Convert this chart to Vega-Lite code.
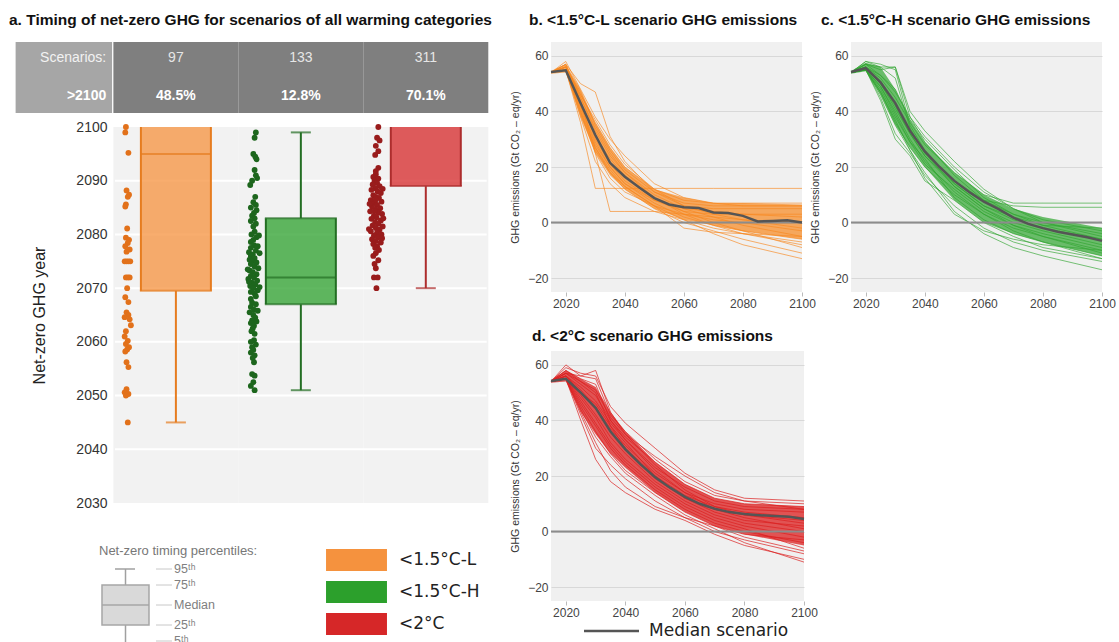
{
"$schema": "https://vega.github.io/schema/vega-lite/v6.json",
"background": "white",
"padding": {"left": 9, "top": 12, "right": 0, "bottom": 0},
"config": {"font": "Liberation Sans", "view": {"stroke": null}, "title": {"font": "Liberation Sans", "fontWeight": "bold", "fontSize": 15.5, "color": "#111111", "anchor": "start", "offset": 14, "frame": "group"}},
"datasets": {
"box": [
{"g":"<1.5°C-L","c":1,"n":"97","pct":"48.5%","lo":2045,"q1":2069.5,"med":2095,"q3":2100,"hi":null},
{"g":"<1.5°C-H","c":2,"n":"133","pct":"12.8%","lo":2051,"q1":2067,"med":2072,"q3":2083,"hi":2099},
{"g":"<2°C","c":3,"n":"311","pct":"70.1%","lo":2070,"q1":2089,"med":null,"q3":2100,"hi":null}],
"grid": [{"y":2040},{"y":2050},{"y":2060},{"y":2070},{"y":2080},{"y":2090}],
"dL": [{"x":0.60,"y":2100},{"x":0.595,"y":2099},{"x":0.62,"y":2095.2},{"x":0.605,"y":2088.2},{"x":0.625,"y":2087.4},{"x":0.615,"y":2087},{"x":0.6,"y":2085.6},{"x":0.595,"y":2085.2},{"x":0.61,"y":2081.1},{"x":0.6,"y":2079.4},{"x":0.625,"y":2079},{"x":0.615,"y":2078.4},{"x":0.595,"y":2077.8},{"x":0.63,"y":2077.2},{"x":0.605,"y":2076.8},{"x":0.59,"y":2075},{"x":0.605,"y":2075},{"x":0.62,"y":2075},{"x":0.635,"y":2075},{"x":0.6,"y":2072},{"x":0.615,"y":2072},{"x":0.63,"y":2072},{"x":0.61,"y":2070},{"x":0.595,"y":2068.3},{"x":0.62,"y":2067.4},{"x":0.605,"y":2065.5},{"x":0.62,"y":2065},{"x":0.59,"y":2064.6},{"x":0.63,"y":2064.2},{"x":0.64,"y":2063.1},{"x":0.6,"y":2062},{"x":0.59,"y":2061},{"x":0.615,"y":2060.2},{"x":0.6,"y":2059.6},{"x":0.625,"y":2059},{"x":0.61,"y":2058.6},{"x":0.595,"y":2058.2},{"x":0.605,"y":2056.2},{"x":0.62,"y":2055.3},{"x":0.605,"y":2051.2},{"x":0.59,"y":2050.6},{"x":0.62,"y":2050.3},{"x":0.6,"y":2050},{"x":0.615,"y":2045}],
"dH": [{"x":1.64,"y":2099},{"x":1.63,"y":2098},{"x":1.62,"y":2095},{"x":1.635,"y":2094.5},{"x":1.645,"y":2094},{"x":1.63,"y":2092},{"x":1.64,"y":2091},{"x":1.65,"y":2090.5},{"x":1.61,"y":2090},{"x":1.595,"y":2089.2},{"x":1.635,"y":2087},{"x":1.62,"y":2086},{"x":1.64,"y":2085.5},{"x":1.6,"y":2085},{"x":1.645,"y":2084.5},{"x":1.625,"y":2084},{"x":1.61,"y":2083.5},{"x":1.63,"y":2083},{"x":1.6,"y":2082.5},{"x":1.64,"y":2082},{"x":1.62,"y":2081.5},{"x":1.63,"y":2080.5},{"x":1.605,"y":2080},{"x":1.645,"y":2079.5},{"x":1.62,"y":2079},{"x":1.6,"y":2078.6},{"x":1.625,"y":2078},{"x":1.6,"y":2077.5},{"x":1.64,"y":2077},{"x":1.585,"y":2076.7},{"x":1.615,"y":2076.3},{"x":1.6,"y":2076},{"x":1.63,"y":2075.6},{"x":1.59,"y":2075.3},{"x":1.61,"y":2075},{"x":1.6,"y":2074.5},{"x":1.63,"y":2074},{"x":1.66,"y":2073.7},{"x":1.59,"y":2073.3},{"x":1.615,"y":2073},{"x":1.645,"y":2072.6},{"x":1.6,"y":2072.3},{"x":1.625,"y":2072},{"x":1.58,"y":2071.7},{"x":1.65,"y":2071.4},{"x":1.61,"y":2071},{"x":1.635,"y":2070.7},{"x":1.595,"y":2070.4},{"x":1.62,"y":2070},{"x":1.655,"y":2069.6},{"x":1.6,"y":2069.3},{"x":1.63,"y":2069},{"x":1.61,"y":2067.3},{"x":1.64,"y":2067},{"x":1.6,"y":2066.5},{"x":1.625,"y":2066},{"x":1.59,"y":2065.5},{"x":1.62,"y":2065},{"x":1.635,"y":2064.5},{"x":1.61,"y":2064},{"x":1.6,"y":2063.5},{"x":1.625,"y":2063},{"x":1.615,"y":2062.5},{"x":1.605,"y":2062},{"x":1.625,"y":2060.3},{"x":1.6,"y":2060},{"x":1.64,"y":2059.5},{"x":1.61,"y":2059},{"x":1.62,"y":2058.5},{"x":1.6,"y":2058},{"x":1.63,"y":2057.5},{"x":1.615,"y":2057},{"x":1.625,"y":2056.2},{"x":1.61,"y":2054},{"x":1.63,"y":2053.7},{"x":1.62,"y":2052.5},{"x":1.6,"y":2051.8},{"x":1.63,"y":2051},{"x":1.665,"y":2079.8},{"x":1.655,"y":2077.8},{"x":1.67,"y":2076.5},{"x":1.645,"y":2074.8},{"x":1.575,"y":2073.5},{"x":1.585,"y":2071.2},{"x":1.67,"y":2070.2},{"x":1.64,"y":2068.5},{"x":1.6,"y":2068},{"x":1.655,"y":2065.8},{"x":1.645,"y":2063.8},{"x":1.63,"y":2061.5}],
"dC": [{"x":2.62,"y":2100},{"x":2.61,"y":2098},{"x":2.63,"y":2097.5},{"x":2.6,"y":2096.5},{"x":2.62,"y":2095.5},{"x":2.595,"y":2094.8},{"x":2.62,"y":2092.4},{"x":2.6,"y":2091.8},{"x":2.6,"y":2091.2},{"x":2.58,"y":2090.7},{"x":2.62,"y":2090.4},{"x":2.59,"y":2090},{"x":2.61,"y":2089.6},{"x":2.575,"y":2089.3},{"x":2.63,"y":2089},{"x":2.595,"y":2088.6},{"x":2.565,"y":2088.3},{"x":2.615,"y":2088},{"x":2.64,"y":2087.7},{"x":2.58,"y":2087.3},{"x":2.6,"y":2087},{"x":2.625,"y":2086.8},{"x":2.56,"y":2086.4},{"x":2.645,"y":2086.1},{"x":2.59,"y":2085.9},{"x":2.61,"y":2085.5},{"x":2.57,"y":2085.2},{"x":2.635,"y":2084.9},{"x":2.6,"y":2084.6},{"x":2.555,"y":2084.3},{"x":2.62,"y":2084.1},{"x":2.65,"y":2083.8},{"x":2.585,"y":2083.5},{"x":2.605,"y":2083.2},{"x":2.565,"y":2082.9},{"x":2.64,"y":2082.6},{"x":2.595,"y":2082.3},{"x":2.62,"y":2082},{"x":2.575,"y":2081.7},{"x":2.655,"y":2081.5},{"x":2.6,"y":2081.2},{"x":2.63,"y":2080.9},{"x":2.56,"y":2080.6},{"x":2.61,"y":2080.3},{"x":2.645,"y":2080},{"x":2.585,"y":2079.8},{"x":2.62,"y":2079.5},{"x":2.57,"y":2079.1},{"x":2.6,"y":2078.8},{"x":2.64,"y":2078.5},{"x":2.58,"y":2078.2},{"x":2.61,"y":2077.8},{"x":2.595,"y":2077.5},{"x":2.625,"y":2077.1},{"x":2.655,"y":2088.5},{"x":2.55,"y":2085.7},{"x":2.66,"y":2083},{"x":2.545,"y":2081},{"x":2.65,"y":2079.3},{"x":2.6,"y":2086.5},{"x":2.59,"y":2084.4},{"x":2.6,"y":2076.5},{"x":2.58,"y":2076},{"x":2.62,"y":2075.2},{"x":2.59,"y":2074.5},{"x":2.6,"y":2073.7},{"x":2.585,"y":2072},{"x":2.615,"y":2072},{"x":2.605,"y":2070}],
"pctl": [{"p":95,"t":"95ᵗʰ"},{"p":75,"t":"75ᵗʰ"},{"p":50,"t":"Median"},{"p":25,"t":"25ᵗʰ"},{"p":5,"t":"5ᵗʰ"}],
"band": [
{"p":"b","x":2015,"lo":53.6,"hi":54.6},{"p":"b","x":2020,"lo":54,"hi":57},{"p":"b","x":2025,"lo":38,"hi":48},{"p":"b","x":2030,"lo":25,"hi":36},{"p":"b","x":2035,"lo":17,"hi":27},{"p":"b","x":2040,"lo":12,"hi":20},{"p":"b","x":2050,"lo":5,"hi":12},{"p":"b","x":2060,"lo":1,"hi":9},{"p":"b","x":2070,"lo":-1,"hi":7},{"p":"b","x":2080,"lo":-3,"hi":7},{"p":"b","x":2100,"lo":-6,"hi":6.5},
{"p":"c","x":2015,"lo":53.6,"hi":54.6},{"p":"c","x":2020,"lo":54.5,"hi":57.5},{"p":"c","x":2025,"lo":46,"hi":56},{"p":"c","x":2030,"lo":35,"hi":48},{"p":"c","x":2035,"lo":27,"hi":37},{"p":"c","x":2040,"lo":20,"hi":29},{"p":"c","x":2050,"lo":8,"hi":18},{"p":"c","x":2060,"lo":0,"hi":10},{"p":"c","x":2070,"lo":-4,"hi":5},{"p":"c","x":2080,"lo":-7,"hi":2},{"p":"c","x":2100,"lo":-12,"hi":-2},
{"p":"d","x":2015,"lo":53.6,"hi":54.6},{"p":"d","x":2020,"lo":54,"hi":58},{"p":"d","x":2025,"lo":43,"hi":55},{"p":"d","x":2030,"lo":35,"hi":52},{"p":"d","x":2035,"lo":28,"hi":43},{"p":"d","x":2040,"lo":23,"hi":36},{"p":"d","x":2050,"lo":14,"hi":25},{"p":"d","x":2060,"lo":7,"hi":17},{"p":"d","x":2070,"lo":2,"hi":12},{"p":"d","x":2080,"lo":-1,"hi":10},{"p":"d","x":2100,"lo":-5,"hi":9}],
"med": [
{"p":"b","x":2015,"y":54.2},{"p":"b","x":2020,"y":54.8},{"p":"b","x":2025,"y":43},{"p":"b","x":2030,"y":31.5},{"p":"b","x":2035,"y":21.5},{"p":"b","x":2040,"y":16.5},{"p":"b","x":2045,"y":12.5},{"p":"b","x":2050,"y":8.8},{"p":"b","x":2055,"y":6.5},{"p":"b","x":2060,"y":5.5},{"p":"b","x":2065,"y":5.2},{"p":"b","x":2070,"y":3.6},{"p":"b","x":2075,"y":3.4},{"p":"b","x":2080,"y":2.4},{"p":"b","x":2085,"y":0.4},{"p":"b","x":2090,"y":0.6},{"p":"b","x":2095,"y":0.8},{"p":"b","x":2100,"y":0},
{"p":"c","x":2015,"y":54.2},{"p":"c","x":2020,"y":55.6},{"p":"c","x":2025,"y":50.5},{"p":"c","x":2030,"y":43},{"p":"c","x":2035,"y":33},{"p":"c","x":2040,"y":25.6},{"p":"c","x":2045,"y":20},{"p":"c","x":2050,"y":15},{"p":"c","x":2055,"y":11},{"p":"c","x":2060,"y":7.5},{"p":"c","x":2065,"y":4.8},{"p":"c","x":2070,"y":1.8},{"p":"c","x":2075,"y":-0.5},{"p":"c","x":2080,"y":-2},{"p":"c","x":2085,"y":-3.3},{"p":"c","x":2090,"y":-4.3},{"p":"c","x":2095,"y":-5.3},{"p":"c","x":2100,"y":-6.6},
{"p":"d","x":2015,"y":54.2},{"p":"d","x":2020,"y":55},{"p":"d","x":2025,"y":50},{"p":"d","x":2030,"y":44.5},{"p":"d","x":2035,"y":36},{"p":"d","x":2040,"y":29.6},{"p":"d","x":2045,"y":24.3},{"p":"d","x":2050,"y":19.5},{"p":"d","x":2055,"y":15.8},{"p":"d","x":2060,"y":12.5},{"p":"d","x":2065,"y":10},{"p":"d","x":2070,"y":8.2},{"p":"d","x":2075,"y":7},{"p":"d","x":2080,"y":6.3},{"p":"d","x":2085,"y":5.9},{"p":"d","x":2090,"y":5.6},{"p":"d","x":2095,"y":5.3},{"p":"d","x":2100,"y":4.5}],
"lb": [
{"s":1,"x":2015,"y":54},{"s":1,"x":2020,"y":56},{"s":1,"x":2025,"y":46},{"s":1,"x":2030,"y":36},{"s":1,"x":2035,"y":27},{"s":1,"x":2040,"y":20},{"s":1,"x":2050,"y":12},{"s":1,"x":2060,"y":8},{"s":1,"x":2070,"y":7},{"s":1,"x":2080,"y":7},{"s":1,"x":2100,"y":7},
{"s":2,"x":2015,"y":54},{"s":2,"x":2020,"y":57},{"s":2,"x":2025,"y":44},{"s":2,"x":2030,"y":30},{"s":2,"x":2035,"y":21},{"s":2,"x":2040,"y":15},{"s":2,"x":2050,"y":8},{"s":2,"x":2060,"y":5},{"s":2,"x":2070,"y":4},{"s":2,"x":2080,"y":3},{"s":2,"x":2100,"y":2},
{"s":3,"x":2015,"y":54},{"s":3,"x":2020,"y":55},{"s":3,"x":2025,"y":40},{"s":3,"x":2030,"y":25},{"s":3,"x":2035,"y":16},{"s":3,"x":2040,"y":11},{"s":3,"x":2050,"y":6},{"s":3,"x":2060,"y":3},{"s":3,"x":2070,"y":1},{"s":3,"x":2080,"y":0},{"s":3,"x":2100,"y":-3},
{"s":4,"x":2015,"y":54},{"s":4,"x":2020,"y":58},{"s":4,"x":2025,"y":48},{"s":4,"x":2030,"y":38},{"s":4,"x":2035,"y":30},{"s":4,"x":2040,"y":24},{"s":4,"x":2050,"y":14},{"s":4,"x":2060,"y":9},{"s":4,"x":2070,"y":7},{"s":4,"x":2080,"y":6},{"s":4,"x":2100,"y":6},
{"s":5,"x":2015,"y":54},{"s":5,"x":2020,"y":55},{"s":5,"x":2025,"y":42},{"s":5,"x":2030,"y":28},{"s":5,"x":2035,"y":20},{"s":5,"x":2040,"y":14},{"s":5,"x":2050,"y":7},{"s":5,"x":2060,"y":2},{"s":5,"x":2070,"y":-1},{"s":5,"x":2080,"y":-3},{"s":5,"x":2100,"y":-6},
{"s":6,"x":2015,"y":54},{"s":6,"x":2020,"y":56},{"s":6,"x":2025,"y":45},{"s":6,"x":2030,"y":33},{"s":6,"x":2035,"y":24},{"s":6,"x":2040,"y":18},{"s":6,"x":2050,"y":10},{"s":6,"x":2060,"y":5},{"s":6,"x":2070,"y":2},{"s":6,"x":2080,"y":-1},{"s":6,"x":2100,"y":-5},
{"s":7,"x":2015,"y":54},{"s":7,"x":2020,"y":55},{"s":7,"x":2025,"y":38},{"s":7,"x":2030,"y":22},{"s":7,"x":2035,"y":14},{"s":7,"x":2040,"y":9},{"s":7,"x":2050,"y":4},{"s":7,"x":2060,"y":1},{"s":7,"x":2070,"y":-2},{"s":7,"x":2080,"y":-4},{"s":7,"x":2100,"y":-8},
{"s":8,"x":2015,"y":54},{"s":8,"x":2020,"y":57},{"s":8,"x":2025,"y":50},{"s":8,"x":2030,"y":47},{"s":8,"x":2035,"y":31},{"s":8,"x":2040,"y":22},{"s":8,"x":2050,"y":11},{"s":8,"x":2060,"y":6},{"s":8,"x":2070,"y":5},{"s":8,"x":2080,"y":5},{"s":8,"x":2100,"y":5},
{"s":9,"x":2015,"y":54},{"s":9,"x":2020,"y":55},{"s":9,"x":2025,"y":41},{"s":9,"x":2030,"y":27},{"s":9,"x":2035,"y":18},{"s":9,"x":2040,"y":12},{"s":9,"x":2050,"y":5},{"s":9,"x":2060,"y":0},{"s":9,"x":2070,"y":-3},{"s":9,"x":2080,"y":-6},{"s":9,"x":2100,"y":-11},
{"s":10,"x":2015,"y":54},{"s":10,"x":2020,"y":56},{"s":10,"x":2025,"y":43},{"s":10,"x":2030,"y":31},{"s":10,"x":2035,"y":23},{"s":10,"x":2040,"y":17},{"s":10,"x":2050,"y":9},{"s":10,"x":2060,"y":4},{"s":10,"x":2070,"y":0},{"s":10,"x":2080,"y":-3},{"s":10,"x":2100,"y":-9},
{"s":11,"x":2015,"y":54},{"s":11,"x":2020,"y":55},{"s":11,"x":2025,"y":36},{"s":11,"x":2030,"y":12.3},{"s":11,"x":2035,"y":12.3},{"s":11,"x":2040,"y":12.3},{"s":11,"x":2050,"y":12.3},{"s":11,"x":2060,"y":12.3},{"s":11,"x":2070,"y":12.3},{"s":11,"x":2080,"y":12.3},{"s":11,"x":2100,"y":12.3},
{"s":12,"x":2015,"y":54},{"s":12,"x":2020,"y":56},{"s":12,"x":2025,"y":44},{"s":12,"x":2030,"y":25},{"s":12,"x":2035,"y":4},{"s":12,"x":2040,"y":4},{"s":12,"x":2050,"y":4},{"s":12,"x":2060,"y":3},{"s":12,"x":2070,"y":2},{"s":12,"x":2080,"y":1},{"s":12,"x":2100,"y":0},
{"s":13,"x":2015,"y":54},{"s":13,"x":2020,"y":55},{"s":13,"x":2025,"y":39},{"s":13,"x":2030,"y":26},{"s":13,"x":2035,"y":18},{"s":13,"x":2040,"y":13},{"s":13,"x":2050,"y":6},{"s":13,"x":2060,"y":1},{"s":13,"x":2070,"y":-4},{"s":13,"x":2080,"y":-8},{"s":13,"x":2100,"y":-13},
{"s":14,"x":2015,"y":54},{"s":14,"x":2020,"y":56},{"s":14,"x":2025,"y":47},{"s":14,"x":2030,"y":35},{"s":14,"x":2035,"y":26},{"s":14,"x":2040,"y":19},{"s":14,"x":2050,"y":11},{"s":14,"x":2060,"y":7},{"s":14,"x":2070,"y":6},{"s":14,"x":2080,"y":6},{"s":14,"x":2100,"y":6},
{"s":15,"x":2015,"y":54},{"s":15,"x":2020,"y":55},{"s":15,"x":2025,"y":42},{"s":15,"x":2030,"y":29},{"s":15,"x":2035,"y":20},{"s":15,"x":2040,"y":14},{"s":15,"x":2050,"y":8},{"s":15,"x":2060,"y":4},{"s":15,"x":2070,"y":3},{"s":15,"x":2080,"y":3},{"s":15,"x":2100,"y":3},
{"s":16,"x":2015,"y":54},{"s":16,"x":2020,"y":57},{"s":16,"x":2025,"y":45},{"s":16,"x":2030,"y":34},{"s":16,"x":2035,"y":25},{"s":16,"x":2040,"y":18},{"s":16,"x":2050,"y":9},{"s":16,"x":2060,"y":3},{"s":16,"x":2070,"y":-1},{"s":16,"x":2080,"y":-4},{"s":16,"x":2100,"y":-7},
{"s":17,"x":2015,"y":54},{"s":17,"x":2020,"y":55},{"s":17,"x":2025,"y":40},{"s":17,"x":2030,"y":27},{"s":17,"x":2035,"y":19},{"s":17,"x":2040,"y":13},{"s":17,"x":2050,"y":6},{"s":17,"x":2060,"y":-2},{"s":17,"x":2070,"y":-3.5},{"s":17,"x":2080,"y":-4},{"s":17,"x":2100,"y":-5},
{"s":18,"x":2015,"y":54},{"s":18,"x":2020,"y":56},{"s":18,"x":2025,"y":46},{"s":18,"x":2030,"y":37},{"s":18,"x":2035,"y":28},{"s":18,"x":2040,"y":21},{"s":18,"x":2050,"y":12},{"s":18,"x":2060,"y":6},{"s":18,"x":2070,"y":3},{"s":18,"x":2080,"y":1},{"s":18,"x":2100,"y":-2}],
"lc": [
{"s":1,"x":2015,"y":54},{"s":1,"x":2020,"y":57},{"s":1,"x":2025,"y":56},{"s":1,"x":2030,"y":56},{"s":1,"x":2035,"y":38},{"s":1,"x":2040,"y":29},{"s":1,"x":2050,"y":17},{"s":1,"x":2060,"y":8},{"s":1,"x":2070,"y":3},{"s":1,"x":2080,"y":0},{"s":1,"x":2100,"y":-4},
{"s":2,"x":2015,"y":54},{"s":2,"x":2020,"y":56},{"s":2,"x":2025,"y":50},{"s":2,"x":2030,"y":42},{"s":2,"x":2035,"y":32},{"s":2,"x":2040,"y":24},{"s":2,"x":2050,"y":13},{"s":2,"x":2060,"y":5},{"s":2,"x":2070,"y":0},{"s":2,"x":2080,"y":-3},{"s":2,"x":2100,"y":-8},
{"s":3,"x":2015,"y":54},{"s":3,"x":2020,"y":55},{"s":3,"x":2025,"y":47},{"s":3,"x":2030,"y":36},{"s":3,"x":2035,"y":27},{"s":3,"x":2040,"y":20},{"s":3,"x":2050,"y":10},{"s":3,"x":2060,"y":3},{"s":3,"x":2070,"y":-2},{"s":3,"x":2080,"y":-5},{"s":3,"x":2100,"y":-10},
{"s":4,"x":2015,"y":54},{"s":4,"x":2020,"y":58},{"s":4,"x":2025,"y":57},{"s":4,"x":2030,"y":55},{"s":4,"x":2035,"y":35},{"s":4,"x":2040,"y":26},{"s":4,"x":2050,"y":14},{"s":4,"x":2060,"y":6},{"s":4,"x":2070,"y":1},{"s":4,"x":2080,"y":-2},{"s":4,"x":2100,"y":-6},
{"s":5,"x":2015,"y":54},{"s":5,"x":2020,"y":55},{"s":5,"x":2025,"y":45},{"s":5,"x":2030,"y":32},{"s":5,"x":2035,"y":25},{"s":5,"x":2040,"y":17},{"s":5,"x":2050,"y":6},{"s":5,"x":2060,"y":-2},{"s":5,"x":2070,"y":-7},{"s":5,"x":2080,"y":-10},{"s":5,"x":2100,"y":-14},
{"s":6,"x":2015,"y":54},{"s":6,"x":2020,"y":56},{"s":6,"x":2025,"y":52},{"s":6,"x":2030,"y":45},{"s":6,"x":2035,"y":36},{"s":6,"x":2040,"y":28},{"s":6,"x":2050,"y":18},{"s":6,"x":2060,"y":10},{"s":6,"x":2070,"y":7},{"s":6,"x":2080,"y":7},{"s":6,"x":2100,"y":7},
{"s":7,"x":2015,"y":54},{"s":7,"x":2020,"y":55},{"s":7,"x":2025,"y":49},{"s":7,"x":2030,"y":40},{"s":7,"x":2035,"y":30},{"s":7,"x":2040,"y":22},{"s":7,"x":2050,"y":11},{"s":7,"x":2060,"y":3},{"s":7,"x":2070,"y":-3},{"s":7,"x":2080,"y":-7},{"s":7,"x":2100,"y":-12},
{"s":8,"x":2015,"y":54},{"s":8,"x":2020,"y":57},{"s":8,"x":2025,"y":53},{"s":8,"x":2030,"y":47},{"s":8,"x":2035,"y":38},{"s":8,"x":2040,"y":31},{"s":8,"x":2050,"y":20},{"s":8,"x":2060,"y":11},{"s":8,"x":2070,"y":5},{"s":8,"x":2080,"y":1},{"s":8,"x":2100,"y":-3},
{"s":9,"x":2015,"y":54},{"s":9,"x":2020,"y":55},{"s":9,"x":2025,"y":46},{"s":9,"x":2030,"y":35},{"s":9,"x":2035,"y":26},{"s":9,"x":2040,"y":18},{"s":9,"x":2050,"y":4},{"s":9,"x":2060,"y":-4},{"s":9,"x":2070,"y":-9},{"s":9,"x":2080,"y":-12},{"s":9,"x":2100,"y":-17},
{"s":10,"x":2015,"y":54},{"s":10,"x":2020,"y":56},{"s":10,"x":2025,"y":51},{"s":10,"x":2030,"y":43},{"s":10,"x":2035,"y":33},{"s":10,"x":2040,"y":25},{"s":10,"x":2050,"y":15},{"s":10,"x":2060,"y":8},{"s":10,"x":2070,"y":6},{"s":10,"x":2080,"y":5.5},{"s":10,"x":2100,"y":5.5},
{"s":11,"x":2015,"y":54},{"s":11,"x":2020,"y":55},{"s":11,"x":2025,"y":48},{"s":11,"x":2030,"y":38},{"s":11,"x":2035,"y":29},{"s":11,"x":2040,"y":21},{"s":11,"x":2050,"y":12},{"s":11,"x":2060,"y":4},{"s":11,"x":2070,"y":-1},{"s":11,"x":2080,"y":-4},{"s":11,"x":2100,"y":-9},
{"s":12,"x":2015,"y":54},{"s":12,"x":2020,"y":57},{"s":12,"x":2025,"y":55},{"s":12,"x":2030,"y":56},{"s":12,"x":2035,"y":40},{"s":12,"x":2040,"y":33},{"s":12,"x":2050,"y":22},{"s":12,"x":2060,"y":12},{"s":12,"x":2070,"y":5},{"s":12,"x":2080,"y":0},{"s":12,"x":2100,"y":-5},
{"s":13,"x":2015,"y":54},{"s":13,"x":2020,"y":55},{"s":13,"x":2025,"y":44},{"s":13,"x":2030,"y":30},{"s":13,"x":2035,"y":24},{"s":13,"x":2040,"y":15},{"s":13,"x":2050,"y":8},{"s":13,"x":2060,"y":0},{"s":13,"x":2070,"y":-5},{"s":13,"x":2080,"y":-9},{"s":13,"x":2100,"y":-13},
{"s":14,"x":2015,"y":54},{"s":14,"x":2020,"y":56},{"s":14,"x":2025,"y":50},{"s":14,"x":2030,"y":41},{"s":14,"x":2035,"y":32},{"s":14,"x":2040,"y":24},{"s":14,"x":2050,"y":14},{"s":14,"x":2060,"y":6},{"s":14,"x":2070,"y":2},{"s":14,"x":2080,"y":-1},{"s":14,"x":2100,"y":-2},
{"s":15,"x":2015,"y":54},{"s":15,"x":2020,"y":55},{"s":15,"x":2025,"y":47},{"s":15,"x":2030,"y":37},{"s":15,"x":2035,"y":26},{"s":15,"x":2040,"y":16},{"s":15,"x":2050,"y":3},{"s":15,"x":2060,"y":-3},{"s":15,"x":2070,"y":-6},{"s":15,"x":2080,"y":-8},{"s":15,"x":2100,"y":-10},
{"s":16,"x":2015,"y":54},{"s":16,"x":2020,"y":56},{"s":16,"x":2025,"y":53},{"s":16,"x":2030,"y":48},{"s":16,"x":2035,"y":37},{"s":16,"x":2040,"y":30},{"s":16,"x":2050,"y":19},{"s":16,"x":2060,"y":9},{"s":16,"x":2070,"y":3},{"s":16,"x":2080,"y":-1},{"s":16,"x":2100,"y":-6},
{"s":17,"x":2015,"y":54},{"s":17,"x":2020,"y":58},{"s":17,"x":2025,"y":56},{"s":17,"x":2030,"y":52},{"s":17,"x":2035,"y":34},{"s":17,"x":2040,"y":25},{"s":17,"x":2050,"y":13},{"s":17,"x":2060,"y":5},{"s":17,"x":2070,"y":-1},{"s":17,"x":2080,"y":-5},{"s":17,"x":2100,"y":-11},
{"s":18,"x":2015,"y":54},{"s":18,"x":2020,"y":55},{"s":18,"x":2025,"y":49},{"s":18,"x":2030,"y":39},{"s":18,"x":2035,"y":29},{"s":18,"x":2040,"y":23},{"s":18,"x":2050,"y":9},{"s":18,"x":2060,"y":1},{"s":18,"x":2070,"y":-4},{"s":18,"x":2080,"y":-7},{"s":18,"x":2100,"y":-13}],
"ld": [
{"s":1,"x":2015,"y":54},{"s":1,"x":2020,"y":57},{"s":1,"x":2025,"y":56},{"s":1,"x":2030,"y":55},{"s":1,"x":2035,"y":42},{"s":1,"x":2040,"y":36},{"s":1,"x":2050,"y":26},{"s":1,"x":2060,"y":18},{"s":1,"x":2070,"y":13},{"s":1,"x":2080,"y":11},{"s":1,"x":2100,"y":10},
{"s":2,"x":2015,"y":54},{"s":2,"x":2020,"y":56},{"s":2,"x":2025,"y":50},{"s":2,"x":2030,"y":44},{"s":2,"x":2035,"y":36},{"s":2,"x":2040,"y":30},{"s":2,"x":2050,"y":20},{"s":2,"x":2060,"y":13},{"s":2,"x":2070,"y":9},{"s":2,"x":2080,"y":7},{"s":2,"x":2100,"y":5},
{"s":3,"x":2015,"y":54},{"s":3,"x":2020,"y":55},{"s":3,"x":2025,"y":46},{"s":3,"x":2030,"y":38},{"s":3,"x":2035,"y":30},{"s":3,"x":2040,"y":24},{"s":3,"x":2050,"y":15},{"s":3,"x":2060,"y":8},{"s":3,"x":2070,"y":3},{"s":3,"x":2080,"y":0},{"s":3,"x":2100,"y":-4},
{"s":4,"x":2015,"y":54},{"s":4,"x":2020,"y":59},{"s":4,"x":2025,"y":57},{"s":4,"x":2030,"y":56},{"s":4,"x":2035,"y":45},{"s":4,"x":2040,"y":39},{"s":4,"x":2050,"y":30},{"s":4,"x":2060,"y":21},{"s":4,"x":2070,"y":15},{"s":4,"x":2080,"y":12},{"s":4,"x":2100,"y":11},
{"s":5,"x":2015,"y":54},{"s":5,"x":2020,"y":55},{"s":5,"x":2025,"y":42},{"s":5,"x":2030,"y":30},{"s":5,"x":2035,"y":24},{"s":5,"x":2040,"y":19},{"s":5,"x":2050,"y":11},{"s":5,"x":2060,"y":5},{"s":5,"x":2070,"y":0},{"s":5,"x":2080,"y":-3},{"s":5,"x":2100,"y":-8},
{"s":6,"x":2015,"y":54},{"s":6,"x":2020,"y":56},{"s":6,"x":2025,"y":52},{"s":6,"x":2030,"y":47},{"s":6,"x":2035,"y":39},{"s":6,"x":2040,"y":33},{"s":6,"x":2050,"y":23},{"s":6,"x":2060,"y":16},{"s":6,"x":2070,"y":11},{"s":6,"x":2080,"y":9},{"s":6,"x":2100,"y":8},
{"s":7,"x":2015,"y":54},{"s":7,"x":2020,"y":55},{"s":7,"x":2025,"y":48},{"s":7,"x":2030,"y":41},{"s":7,"x":2035,"y":32},{"s":7,"x":2040,"y":26},{"s":7,"x":2050,"y":17},{"s":7,"x":2060,"y":10},{"s":7,"x":2070,"y":5},{"s":7,"x":2080,"y":2},{"s":7,"x":2100,"y":-2},
{"s":8,"x":2015,"y":54},{"s":8,"x":2020,"y":58},{"s":8,"x":2025,"y":55},{"s":8,"x":2030,"y":53},{"s":8,"x":2035,"y":40},{"s":8,"x":2040,"y":33},{"s":8,"x":2050,"y":22},{"s":8,"x":2060,"y":14},{"s":8,"x":2070,"y":8},{"s":8,"x":2080,"y":5},{"s":8,"x":2100,"y":1},
{"s":9,"x":2015,"y":54},{"s":9,"x":2020,"y":55},{"s":9,"x":2025,"y":44},{"s":9,"x":2030,"y":34},{"s":9,"x":2035,"y":27},{"s":9,"x":2040,"y":21},{"s":9,"x":2050,"y":13},{"s":9,"x":2060,"y":6},{"s":9,"x":2070,"y":1},{"s":9,"x":2080,"y":-4},{"s":9,"x":2100,"y":-11},
{"s":10,"x":2015,"y":54},{"s":10,"x":2020,"y":57},{"s":10,"x":2025,"y":53},{"s":10,"x":2030,"y":49},{"s":10,"x":2035,"y":40},{"s":10,"x":2040,"y":34},{"s":10,"x":2050,"y":25},{"s":10,"x":2060,"y":17},{"s":10,"x":2070,"y":12},{"s":10,"x":2080,"y":10},{"s":10,"x":2100,"y":9},
{"s":11,"x":2015,"y":54},{"s":11,"x":2020,"y":55},{"s":11,"x":2025,"y":47},{"s":11,"x":2030,"y":39},{"s":11,"x":2035,"y":31},{"s":11,"x":2040,"y":25},{"s":11,"x":2050,"y":16},{"s":11,"x":2060,"y":9},{"s":11,"x":2070,"y":4},{"s":11,"x":2080,"y":1},{"s":11,"x":2100,"y":-6},
{"s":12,"x":2015,"y":54},{"s":12,"x":2020,"y":60},{"s":12,"x":2025,"y":56},{"s":12,"x":2030,"y":58},{"s":12,"x":2035,"y":43},{"s":12,"x":2040,"y":35},{"s":12,"x":2050,"y":24},{"s":12,"x":2060,"y":15},{"s":12,"x":2070,"y":9},{"s":12,"x":2080,"y":6},{"s":12,"x":2100,"y":3},
{"s":13,"x":2015,"y":54},{"s":13,"x":2020,"y":55},{"s":13,"x":2025,"y":40},{"s":13,"x":2030,"y":26},{"s":13,"x":2035,"y":18},{"s":13,"x":2040,"y":14},{"s":13,"x":2050,"y":8},{"s":13,"x":2060,"y":4},{"s":13,"x":2070,"y":-1},{"s":13,"x":2080,"y":-5},{"s":13,"x":2100,"y":-10},
{"s":14,"x":2015,"y":54},{"s":14,"x":2020,"y":56},{"s":14,"x":2025,"y":51},{"s":14,"x":2030,"y":45},{"s":14,"x":2035,"y":37},{"s":14,"x":2040,"y":31},{"s":14,"x":2050,"y":21},{"s":14,"x":2060,"y":14},{"s":14,"x":2070,"y":10},{"s":14,"x":2080,"y":8},{"s":14,"x":2100,"y":7},
{"s":15,"x":2015,"y":54},{"s":15,"x":2020,"y":55},{"s":15,"x":2025,"y":45},{"s":15,"x":2030,"y":36},{"s":15,"x":2035,"y":28},{"s":15,"x":2040,"y":22},{"s":15,"x":2050,"y":14},{"s":15,"x":2060,"y":7},{"s":15,"x":2070,"y":2},{"s":15,"x":2080,"y":-2},{"s":15,"x":2100,"y":-7},
{"s":16,"x":2015,"y":54},{"s":16,"x":2020,"y":57},{"s":16,"x":2025,"y":54},{"s":16,"x":2030,"y":51},{"s":16,"x":2035,"y":41},{"s":16,"x":2040,"y":35},{"s":16,"x":2050,"y":27},{"s":16,"x":2060,"y":20},{"s":16,"x":2070,"y":14},{"s":16,"x":2080,"y":11},{"s":16,"x":2100,"y":8},
{"s":17,"x":2015,"y":54},{"s":17,"x":2020,"y":55},{"s":17,"x":2025,"y":49},{"s":17,"x":2030,"y":42},{"s":17,"x":2035,"y":34},{"s":17,"x":2040,"y":28},{"s":17,"x":2050,"y":18},{"s":17,"x":2060,"y":11},{"s":17,"x":2070,"y":6},{"s":17,"x":2080,"y":3},{"s":17,"x":2100,"y":0},
{"s":18,"x":2015,"y":54},{"s":18,"x":2020,"y":56},{"s":18,"x":2025,"y":50},{"s":18,"x":2030,"y":46},{"s":18,"x":2035,"y":38},{"s":18,"x":2040,"y":32},{"s":18,"x":2050,"y":20},{"s":18,"x":2060,"y":12},{"s":18,"x":2070,"y":7},{"s":18,"x":2080,"y":4},{"s":18,"x":2100,"y":2},
{"s":19,"x":2015,"y":54},{"s":19,"x":2020,"y":55},{"s":19,"x":2025,"y":43},{"s":19,"x":2030,"y":32},{"s":19,"x":2035,"y":22},{"s":19,"x":2040,"y":16},{"s":19,"x":2050,"y":9},{"s":19,"x":2060,"y":5},{"s":19,"x":2070,"y":2},{"s":19,"x":2080,"y":-1},{"s":19,"x":2100,"y":-3},
{"s":20,"x":2015,"y":54},{"s":20,"x":2020,"y":58},{"s":20,"x":2025,"y":54},{"s":20,"x":2030,"y":50},{"s":20,"x":2035,"y":38},{"s":20,"x":2040,"y":30},{"s":20,"x":2050,"y":19},{"s":20,"x":2060,"y":12},{"s":20,"x":2070,"y":8},{"s":20,"x":2080,"y":6},{"s":20,"x":2100,"y":4}]
},
"spacing": 8,
"resolve": {"scale": {"stroke": "independent", "fill": "independent", "color": "independent"}},
"hconcat": [
{
"bounds": "flush",
"spacing": 60,
"resolve": {"scale": {"stroke": "independent", "fill": "independent", "color": "independent"}},
"vconcat": [
{
"width": 392, "height": 461,
"title": {"text": "a. Timing of net-zero GHG for scenarios of all warming categories", "dx": -101},
"layer": [
{"data": {"name": "box"}, "mark": {"type": "bar", "width": 125, "fill": "#f2f2f2"},
 "encoding": {"x": {"field": "c", "type": "quantitative", "scale": {"domain": [0.5127, 3.5698], "nice": false, "zero": false}, "axis": null},
  "y": {"datum": 2030, "type": "quantitative", "scale": {"domain": [2030, 2115.83], "nice": false, "zero": false},
   "axis": {"title": "Net-zero GHG year", "values": [2030, 2040, 2050, 2060, 2070, 2080, 2090, 2100], "format": "d", "domain": false, "ticks": false, "grid": false, "labelPadding": 3, "labelFontSize": 14, "labelColor": "#333333", "titleFontSize": 16, "titleFontWeight": "normal", "titleColor": "#222222", "titleX": -63, "titleY": 273}},
  "y2": {"datum": 2100}}},
{"data": {"name": "box"}, "mark": {"type": "bar", "width": 125, "fill": "#7f7f7f"},
 "encoding": {"x": {"field": "c", "type": "quantitative", "axis": null}, "y": {"datum": 2102.6, "type": "quantitative"}, "y2": {"datum": 2115.83}}},
{"data": {"values": [{}]}, "mark": {"type": "rect", "fill": "#a6a6a6"},
 "encoding": {"x": {"datum": -0.2827, "type": "quantitative", "axis": null}, "x2": {"datum": 0.4893}, "y": {"datum": 2102.6, "type": "quantitative"}, "y2": {"datum": 2115.83}}},
{"data": {"name": "grid"}, "mark": {"type": "rule", "stroke": "white", "strokeWidth": 2},
 "encoding": {"x": {"datum": 0.5127, "type": "quantitative", "axis": null}, "x2": {"datum": 3.4873}, "y": {"field": "y", "type": "quantitative"}}},
{"data": {"name": "dL"}, "mark": {"type": "circle", "size": 34, "fill": "#e2711a", "opacity": 1},
 "encoding": {"x": {"field": "x", "type": "quantitative", "axis": null}, "y": {"field": "y", "type": "quantitative"}}},
{"data": {"name": "dH"}, "mark": {"type": "circle", "size": 34, "fill": "#1d661d", "opacity": 1},
 "encoding": {"x": {"field": "x", "type": "quantitative", "axis": null}, "y": {"field": "y", "type": "quantitative"}}},
{"data": {"name": "dC"}, "mark": {"type": "circle", "size": 34, "fill": "#991c1c", "opacity": 1},
 "encoding": {"x": {"field": "x", "type": "quantitative", "axis": null}, "y": {"field": "y", "type": "quantitative"}}},
{"data": {"name": "box"}, "mark": {"type": "rule", "strokeWidth": 2},
 "encoding": {"x": {"field": "c", "type": "quantitative", "axis": null}, "y": {"field": "lo", "type": "quantitative"}, "y2": {"field": "q1"},
  "stroke": {"field": "g", "type": "nominal", "scale": {"domain": ["<2°C", "<1.5°C-H", "<1.5°C-L"], "range": ["#ad2d2d", "#236e23", "#e67c1f"]}, "legend": null}}},
{"data": {"name": "box"}, "transform": [{"filter": "datum.hi != null"}], "mark": {"type": "rule", "strokeWidth": 2},
 "encoding": {"x": {"field": "c", "type": "quantitative", "axis": null}, "y": {"field": "q3", "type": "quantitative"}, "y2": {"field": "hi"},
  "stroke": {"field": "g", "type": "nominal", "legend": null}}},
{"data": {"name": "box"}, "mark": {"type": "tick", "orient": "horizontal", "size": 20, "thickness": 2},
 "encoding": {"x": {"field": "c", "type": "quantitative", "axis": null}, "y": {"field": "lo", "type": "quantitative"},
  "color": {"field": "g", "type": "nominal", "scale": {"domain": ["<1.5°C-H", "<2°C", "<1.5°C-L"], "range": ["#236e23", "#ad2d2d", "#e67c1f"]}, "legend": null}}},
{"data": {"name": "box"}, "transform": [{"filter": "datum.hi != null"}], "mark": {"type": "tick", "orient": "horizontal", "size": 20, "thickness": 2},
 "encoding": {"x": {"field": "c", "type": "quantitative", "axis": null}, "y": {"field": "hi", "type": "quantitative"},
  "color": {"field": "g", "type": "nominal", "legend": null}}},
{"data": {"name": "box"}, "mark": {"type": "bar", "width": 70, "fillOpacity": 0.75, "strokeWidth": 0},
 "encoding": {"x": {"field": "c", "type": "quantitative", "axis": null}, "y": {"field": "q1", "type": "quantitative"}, "y2": {"field": "q3"},
  "fill": {"field": "g", "type": "nominal", "scale": {"domain": ["<1.5°C-L", "<1.5°C-H", "<2°C"], "range": ["#f5923e", "#2ca02c", "#d62728"]},
   "legend": {"orient": "none", "legendX": 216, "legendY": 507, "title": null, "symbolType": "M-2.77,-1H2.77V1H-2.77Z", "symbolSize": 484, "symbolOffset": 19.5, "rowPadding": 10, "labelFontSize": 17, "labelFont": "DejaVu Sans", "labelColor": "#222222", "labelOffset": 31.5, "symbolStrokeWidth": 0, "symbolOpacity": 1}}}},
{"data": {"name": "box"}, "mark": {"type": "rule", "strokeWidth": 2, "xOffset": -35},
 "encoding": {"x": {"field": "c", "type": "quantitative", "axis": null}, "y": {"field": "q1", "type": "quantitative"}, "y2": {"field": "q3"},
  "stroke": {"field": "g", "type": "nominal", "legend": null}}},
{"data": {"name": "box"}, "mark": {"type": "rule", "strokeWidth": 2, "xOffset": 35},
 "encoding": {"x": {"field": "c", "type": "quantitative", "axis": null}, "y": {"field": "q1", "type": "quantitative"}, "y2": {"field": "q3"},
  "stroke": {"field": "g", "type": "nominal", "legend": null}}},
{"data": {"name": "box"}, "mark": {"type": "tick", "orient": "horizontal", "size": 72, "thickness": 2},
 "encoding": {"x": {"field": "c", "type": "quantitative", "axis": null}, "y": {"field": "q1", "type": "quantitative"},
  "color": {"field": "g", "type": "nominal", "legend": null}}},
{"data": {"name": "box"}, "transform": [{"filter": "datum.q3 < 2100"}], "mark": {"type": "tick", "orient": "horizontal", "size": 72, "thickness": 2},
 "encoding": {"x": {"field": "c", "type": "quantitative", "axis": null}, "y": {"field": "q3", "type": "quantitative"},
  "color": {"field": "g", "type": "nominal", "legend": null}}},
{"data": {"name": "box"}, "transform": [{"filter": "datum.med != null"}], "mark": {"type": "tick", "orient": "horizontal", "size": 70, "thickness": 2},
 "encoding": {"x": {"field": "c", "type": "quantitative", "axis": null}, "y": {"field": "med", "type": "quantitative"},
  "color": {"field": "g", "type": "nominal", "legend": null}}},
{"data": {"name": "box"}, "mark": {"type": "text", "fontSize": 14, "color": "#e6e6e6", "baseline": "middle", "align": "center"},
 "encoding": {"x": {"field": "c", "type": "quantitative", "axis": null}, "y": {"datum": 2112.85, "type": "quantitative"}, "text": {"field": "n"}}},
{"data": {"name": "box"}, "mark": {"type": "text", "fontSize": 14, "fontWeight": "bold", "color": "#ffffff", "baseline": "middle", "align": "center"},
 "encoding": {"x": {"field": "c", "type": "quantitative", "axis": null}, "y": {"datum": 2105.8, "type": "quantitative"}, "text": {"field": "pct"}}},
{"data": {"values": [{}]}, "mark": {"type": "text", "text": "Scenarios:", "fontSize": 14, "color": "#f2f2f2", "baseline": "middle", "align": "right"},
 "encoding": {"x": {"datum": 0.4425, "type": "quantitative", "axis": null}, "y": {"datum": 2112.85, "type": "quantitative"}}},
{"data": {"values": [{}]}, "mark": {"type": "text", "text": ">2100", "fontSize": 14, "fontWeight": "bold", "color": "#ffffff", "baseline": "middle", "align": "right"},
 "encoding": {"x": {"datum": 0.4425, "type": "quantitative", "axis": null}, "y": {"datum": 2105.8, "type": "quantitative"}}}
]
},
{
"width": 392, "height": 79,
"title": {"text": "Net-zero timing percentiles:", "dx": -11, "offset": 5, "fontSize": 13, "fontWeight": "normal", "color": "#777777"},
"layer": [
{"data": {"values": [{}]}, "mark": {"type": "rule", "stroke": "#a0a0a0", "strokeWidth": 1.5},
 "encoding": {"x": {"datum": 0.6336, "type": "quantitative", "scale": {"domain": [0.5127, 3.5698], "nice": false, "zero": false}, "axis": null},
  "y": {"datum": 95, "type": "quantitative", "scale": {"domain": [3.75, 102.5], "nice": false, "zero": false}, "axis": null}, "y2": {"datum": 0}}},
{"data": {"values": [{}]}, "mark": {"type": "rule", "stroke": "#a0a0a0", "strokeWidth": 1.5},
 "encoding": {"x": {"datum": 0.5517, "type": "quantitative", "axis": null}, "x2": {"datum": 0.7077}, "y": {"datum": 95, "type": "quantitative", "axis": null}}},
{"data": {"values": [{}]}, "mark": {"type": "rect", "fill": "#d9d9d9", "stroke": "#a6a6a6", "strokeWidth": 1.5},
 "encoding": {"x": {"datum": 0.4503, "type": "quantitative", "axis": null}, "x2": {"datum": 0.8168}, "y": {"datum": 75, "type": "quantitative", "axis": null}, "y2": {"datum": 25}}},
{"data": {"values": [{}]}, "mark": {"type": "rule", "stroke": "#a6a6a6", "strokeWidth": 1.5},
 "encoding": {"x": {"datum": 0.4503, "type": "quantitative", "axis": null}, "x2": {"datum": 0.8168}, "y": {"datum": 50, "type": "quantitative", "axis": null}}},
{"data": {"name": "pctl"}, "mark": {"type": "rule", "stroke": "#c8c8c8", "strokeWidth": 1},
 "encoding": {"x": {"datum": 0.8714, "type": "quantitative", "axis": null}, "x2": {"datum": 0.9962}, "y": {"field": "p", "type": "quantitative", "axis": null}}},
{"data": {"name": "pctl"}, "mark": {"type": "text", "align": "left", "baseline": "middle", "fontSize": 12.5, "color": "#808080"},
 "encoding": {"x": {"datum": 1.012, "type": "quantitative", "axis": null}, "y": {"field": "p", "type": "quantitative", "axis": null}, "text": {"field": "t"}}}
]
}
]
},
{
"spacing": 19,
"resolve": {"scale": {"stroke": "independent", "fill": "independent", "color": "independent"}},
"vconcat": [
{
"bounds": "flush",
"spacing": 49,
"hconcat": [
{
"width": 251, "height": 250,
"title": {"text": "b. <1.5°C-L scenario GHG emissions", "dx": -22},
"view": {"fill": "#f0f0f0", "stroke": null},
"encoding": {"x": {"field": "x", "type": "quantitative", "scale": {"domain": [2015, 2100], "nice": false, "zero": false},
 "axis": {"values": [2020, 2040, 2060, 2080, 2100], "format": "d", "title": null, "grid": false, "domain": false, "tickColor": "#bbbbbb", "tickSize": 4, "labelFontSize": 12, "labelColor": "#444444", "labelPadding": 2, "labelFlush": false, "labelOverlap": false}}},
"layer": [
{"data": {"name": "band"}, "transform": [{"filter": "datum.p == 'b'"}], "mark": {"type": "area", "color": "#f7871e", "opacity": 0.7},
 "encoding": {"y": {"field": "lo", "type": "quantitative", "title": "GHG emissions (Gt CO₂ – eq/yr)", "scale": {"domain": [-25, 65], "nice": false, "zero": false},
  "axis": {"values": [-20, 0, 20, 40, 60], "titleFontSize": 10.5, "titleFontWeight": "normal", "titleColor": "#333333", "titlePadding": 7, "domain": false, "ticks": false, "gridColor": "#d8d8d8", "labelFontSize": 12, "labelColor": "#444444", "labelPadding": 3}},
  "y2": {"field": "hi"}}},
{"data": {"name": "lb"}, "mark": {"type": "line", "color": "#f7871e", "strokeWidth": 1, "opacity": 0.65},
 "encoding": {"y": {"field": "y", "type": "quantitative", "title": "GHG emissions (Gt CO₂ – eq/yr)"}, "detail": {"field": "s"}}},
{"data": {"name": "band"}, "transform": [{"filter": "datum.p == 'b'"}], "mark": {"type": "line", "color": "#8c8c8c", "strokeWidth": 2},
 "encoding": {"y": {"datum": 0, "type": "quantitative", "title": "GHG emissions (Gt CO₂ – eq/yr)"}}},
{"data": {"name": "med"}, "transform": [{"filter": "datum.p == 'b'"}], "mark": {"type": "line", "color": "#555555", "strokeWidth": 2.5},
 "encoding": {"y": {"field": "y", "type": "quantitative", "title": "GHG emissions (Gt CO₂ – eq/yr)"}}}
]
},
{
"width": 251, "height": 250,
"title": {"text": "c. <1.5°C-H scenario GHG emissions", "dx": -30},
"view": {"fill": "#f0f0f0", "stroke": null},
"encoding": {"x": {"field": "x", "type": "quantitative", "scale": {"domain": [2015, 2100], "nice": false, "zero": false},
 "axis": {"values": [2020, 2040, 2060, 2080, 2100], "format": "d", "title": null, "grid": false, "domain": false, "tickColor": "#bbbbbb", "tickSize": 4, "labelFontSize": 12, "labelColor": "#444444", "labelPadding": 2, "labelFlush": false, "labelOverlap": false}}},
"layer": [
{"data": {"name": "band"}, "transform": [{"filter": "datum.p == 'c'"}], "mark": {"type": "area", "color": "#2fa52f", "opacity": 0.7},
 "encoding": {"y": {"field": "lo", "type": "quantitative", "title": "GHG emissions (Gt CO₂ – eq/yr)", "scale": {"domain": [-25, 65], "nice": false, "zero": false},
  "axis": {"values": [-20, 0, 20, 40, 60], "titleFontSize": 10.5, "titleFontWeight": "normal", "titleColor": "#333333", "titlePadding": 7, "domain": false, "ticks": false, "gridColor": "#d8d8d8", "labelFontSize": 12, "labelColor": "#444444", "labelPadding": 3}},
  "y2": {"field": "hi"}}},
{"data": {"name": "lc"}, "mark": {"type": "line", "color": "#2fa52f", "strokeWidth": 1, "opacity": 0.65},
 "encoding": {"y": {"field": "y", "type": "quantitative", "title": "GHG emissions (Gt CO₂ – eq/yr)"}, "detail": {"field": "s"}}},
{"data": {"name": "band"}, "transform": [{"filter": "datum.p == 'c'"}], "mark": {"type": "line", "color": "#8c8c8c", "strokeWidth": 2},
 "encoding": {"y": {"datum": 0, "type": "quantitative", "title": "GHG emissions (Gt CO₂ – eq/yr)"}}},
{"data": {"name": "med"}, "transform": [{"filter": "datum.p == 'c'"}], "mark": {"type": "line", "color": "#555555", "strokeWidth": 2.5},
 "encoding": {"y": {"field": "y", "type": "quantitative", "title": "GHG emissions (Gt CO₂ – eq/yr)"}}}
]
}
]
},
{
"width": 253, "height": 250,
"title": {"text": "d. <2°C scenario GHG emissions", "dx": -19, "offset": 7},
"view": {"fill": "#f0f0f0", "stroke": null},
"encoding": {"x": {"field": "x", "type": "quantitative", "scale": {"domain": [2015, 2100], "nice": false, "zero": false},
 "axis": {"values": [2020, 2040, 2060, 2080, 2100], "format": "d", "title": null, "grid": false, "domain": false, "tickColor": "#bbbbbb", "tickSize": 4, "labelFontSize": 12, "labelColor": "#444444", "labelPadding": 2, "labelFlush": false, "labelOverlap": false}}},
"layer": [
{"data": {"name": "band"}, "transform": [{"filter": "datum.p == 'd'"}], "mark": {"type": "area", "color": "#dc1f1f", "opacity": 0.75},
 "encoding": {"y": {"field": "lo", "type": "quantitative", "title": "GHG emissions (Gt CO₂ – eq/yr)", "scale": {"domain": [-25, 65], "nice": false, "zero": false},
  "axis": {"values": [-20, 0, 20, 40, 60], "titleFontSize": 10.5, "titleFontWeight": "normal", "titleColor": "#333333", "titlePadding": 7, "domain": false, "ticks": false, "gridColor": "#d8d8d8", "labelFontSize": 12, "labelColor": "#444444", "labelPadding": 3}},
  "y2": {"field": "hi"}}},
{"data": {"name": "ld"}, "mark": {"type": "line", "color": "#dc1f1f", "strokeWidth": 1, "opacity": 0.7},
 "encoding": {"y": {"field": "y", "type": "quantitative", "title": "GHG emissions (Gt CO₂ – eq/yr)"}, "detail": {"field": "s"}}},
{"data": {"name": "band"}, "transform": [{"filter": "datum.p == 'd'"}], "mark": {"type": "line", "color": "#8c8c8c", "strokeWidth": 2},
 "encoding": {"y": {"datum": 0, "type": "quantitative", "title": "GHG emissions (Gt CO₂ – eq/yr)"}}},
{"data": {"name": "med"}, "transform": [{"filter": "datum.p == 'd'"}], "mark": {"type": "line", "strokeWidth": 2.5},
 "encoding": {"y": {"field": "y", "type": "quantitative", "title": "GHG emissions (Gt CO₂ – eq/yr)"},
  "stroke": {"field": "p", "type": "nominal", "scale": {"domain": ["d"], "range": ["#555555"]},
   "legend": {"orient": "none", "legendX": 33, "legendY": 267.5, "title": null, "labelExpr": "'Median scenario'", "symbolType": "M-2.5,0H2.5", "symbolSize": 484, "symbolOffset": 15, "symbolStrokeWidth": 2.5, "symbolStrokeColor": "#555555", "labelFontSize": 17, "labelFont": "DejaVu Sans", "labelColor": "#222222", "labelOffset": 25}}}}
]
}
]
}
]
}
